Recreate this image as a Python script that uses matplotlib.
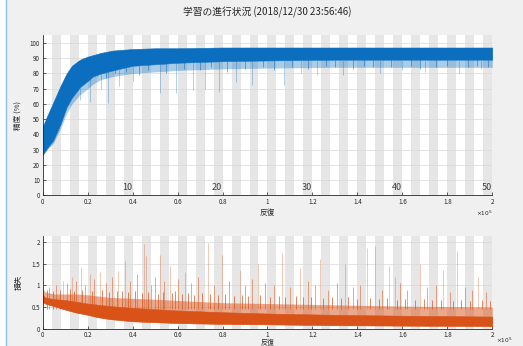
import matplotlib
matplotlib.use("Agg")
import matplotlib.pyplot as plt
from matplotlib.ticker import FuncFormatter, MultipleLocator
from matplotlib.lines import Line2D
from matplotlib.patches import Rectangle

plt.rcParams['font.family'] = ['Noto Sans CJK JP', 'DejaVu Sans']

# ---------------- data ----------------
title = "学習の進行状況 (2018/12/30 23:56:46)"
iters_per_epoch = 4000
n_epochs = 50
epoch_labels = [10, 20, 30, 40, 50]

# accuracy band envelope (iteration, %)
acc_x = [0, 2000, 4700, 8000, 10700, 13000, 16600, 20000, 22400, 26000, 31300,
         40000, 50000, 60000, 80000, 100000, 130000, 160000, 200000]
acc_hi = [45, 52, 61, 72, 80, 85, 89, 91, 92, 93.5, 95, 96, 96.5, 96.5, 97, 97, 97, 97, 97]
acc_lo = [26.5, 31, 36, 47, 58, 64, 71, 75, 78, 80, 82, 85, 86, 87, 88, 88.5, 89, 89, 89]
acc_fr = [26.5, 30, 34, 44, 54, 60, 66, 70, 73, 76, 78, 80, 81, 82, 83, 83.5, 84, 84, 84]
# downward accuracy spikes (iteration, %)
acc_spk_x = [16600, 21000, 29000, 26000, 34000, 40000, 52200, 59300, 67000, 72200,
             78600, 86000, 93200, 107500, 115000, 122000, 133700, 150000, 160000,
             170000, 185000, 195000]
acc_spk_v = [62.6, 61.5, 60.4, 70, 72, 75, 67, 67, 69, 70, 68, 74.6, 72.4, 72.4,
             80, 79, 79, 80, 82, 81, 80, 83]
acc_mid_x = [18000, 24000, 28000, 32000, 37000, 43000, 47000, 55000, 63000, 70000,
             75000, 82000, 90000, 98000, 103000, 111000, 118000, 126000, 130000,
             138000, 143000, 147000, 155000, 164000, 168000, 175000, 180000, 189000,
             193000, 198000]
acc_mid_v = [74, 78, 77, 80, 81, 79, 82, 80, 83, 82, 84, 81, 83, 84, 82, 84, 83, 85,
             84, 83, 85, 84, 84, 85, 83, 84, 85, 84, 85, 84]

# loss band envelope
loss_x = [0, 1000, 5000, 10000, 15000, 20000, 25000, 30000, 40000, 50000, 60000,
          80000, 100000, 130000, 160000, 200000]
loss_core = [0.78, 0.72, 0.68, 0.66, 0.62, 0.58, 0.55, 0.52, 0.48, 0.45, 0.42,
             0.38, 0.35, 0.32, 0.30, 0.28]
loss_fringe = [0.93, 0.85, 0.80, 0.80, 0.80, 0.78, 0.75, 0.72, 0.70, 0.68, 0.65,
               0.60, 0.58, 0.55, 0.52, 0.50]
loss_lo = [0.62, 0.58, 0.52, 0.44, 0.37, 0.32, 0.26, 0.22, 0.17, 0.15, 0.13,
           0.11, 0.10, 0.08, 0.07, 0.06]
# upward loss spikes
loss_spk_x = [9000, 13000, 17000, 21000, 25500, 33500, 36600, 45000, 45800, 52000,
              56600, 63300, 73500, 79700, 87800, 95800, 106500, 114500, 123400,
              134500, 144300, 147800, 154000, 156700, 167800, 178000, 184300, 193600]
loss_spk_v = [1.09, 1.2, 1.42, 1.27, 1.31, 1.34, 1.56, 1.95, 1.67, 1.7, 1.45, 1.3,
              1.98, 1.7, 1.35, 1.5, 1.75, 1.4, 1.6, 1.5, 1.85, 1.9, 1.45, 1.2, 1.5,
              1.35, 1.79, 1.2]
loss_mid_x = [3000, 6000, 11000, 15000, 19000, 23000, 28000, 31000, 39000, 42000,
              48000, 50000, 54000, 60000, 66000, 69000, 76000, 83000, 90000, 93000,
              99000, 103000, 110000, 118000, 121000, 127000, 131000, 138000, 141000,
              151000, 159000, 162000, 171000, 175000, 181000, 188000, 191000, 197000]
loss_mid_v = [0.95, 1.0, 1.05, 1.1, 1.0, 1.15, 1.05, 1.2, 1.1, 1.25, 1.0, 1.2, 1.1,
              1.15, 1.05, 1.2, 1.0, 1.1, 1.0, 1.15, 1.05, 1.0, 0.95, 1.1, 1.0, 0.9,
              1.05, 0.95, 1.0, 0.9, 1.05, 0.9, 0.95, 1.0, 0.85, 0.95, 0.9, 0.85]
loss_small_x = [2000, 4500, 7500, 12000, 14000, 17500, 22000, 26500, 29500, 33000,
                35500, 38000, 41000, 44000, 47000, 51500, 53500, 57500, 59000, 62000,
                64500, 67500, 71000, 74500, 78000, 81000, 85000, 88500, 91500, 96500,
                101000, 105000, 108000, 112500, 116000, 119500, 124500, 128500,
                132500, 136000, 140000, 145500, 149500, 153000, 157500, 161000,
                165500, 169500, 173000, 177000, 182500, 186000, 190000, 195500, 199000]
loss_small_v = [0.9, 0.88, 0.9, 0.92, 0.88, 0.9, 0.86, 0.9, 0.85, 0.88, 0.86, 0.84,
                0.87, 0.82, 0.85, 0.8, 0.84, 0.82, 0.86, 0.8, 0.83, 0.78, 0.82, 0.8,
                0.77, 0.8, 0.76, 0.78, 0.75, 0.78, 0.74, 0.76, 0.73, 0.75, 0.72, 0.74,
                0.7, 0.73, 0.7, 0.72, 0.69, 0.71, 0.68, 0.7, 0.67, 0.69, 0.66, 0.68,
                0.65, 0.67, 0.64, 0.66, 0.64, 0.65, 0.63]

# ---------------- style ----------------
BLUE = '#0b6ebf'
ORANGE = '#d95319'
BAND = '#e6e6e6'
BG = '#f0f0f0'
TXT = '#262626'

fig = plt.figure(figsize=(5.23, 3.46), dpi=100)
fig.patch.set_facecolor(BG)
fig.patches.append(Rectangle((0, 0), 6 / 523, 1, transform=fig.transFigure,
                             facecolor='white', edgecolor='none'))
fig.lines.append(Line2D([6 / 523, 6 / 523], [0, 1], transform=fig.transFigure,
                        color='#8cc0ea', lw=1.0))

ax1 = fig.add_axes([0.0816, 0.4355, 0.8597, 0.4642])
ax2 = fig.add_axes([0.0816, 0.050, 0.8597, 0.2679])

xmax = iters_per_epoch * n_epochs


def style(ax, ymax, ystep, off_x, off_y, ha):
    ax.set_facecolor('white')
    for e in range(1, n_epochs + 1):
        if e % 2 == 0:
            ax.axvspan((e - 1) * iters_per_epoch, e * iters_per_epoch,
                       color=BAND, lw=0, zorder=0)
    ax.set_xlim(0, xmax)
    ax.set_ylim(0, ymax)
    ax.yaxis.set_major_locator(MultipleLocator(ystep))
    ax.xaxis.set_major_locator(MultipleLocator(20000))
    ax.xaxis.set_major_formatter(FuncFormatter(lambda v, p: '%g' % (v / 1e5)))
    ax.grid(axis='y', color='#d9d9d9', lw=0.5, zorder=0.5)
    ax.set_axisbelow(True)
    for s in ['top', 'right']:
        ax.spines[s].set_visible(False)
    for s in ['left', 'bottom']:
        ax.spines[s].set_color(TXT)
        ax.spines[s].set_linewidth(0.6)
    ax.tick_params(direction='in', length=2.5, width=0.5, labelsize=4.5,
                   colors=TXT, pad=2.0)
    ax.text(off_x, off_y, r'$\times10^5$', transform=ax.transAxes, ha=ha,
            va='top', fontsize=4.2, color=TXT, family='DejaVu Sans')


style(ax1, 105.4, 10, 1.0, -0.085, 'right')
style(ax2, 2.136, 0.5, 1.008, -0.075, 'left')
ax2.yaxis.set_major_formatter(FuncFormatter(lambda v, p: '%g' % v))

# accuracy
ax1.fill_between(acc_x, acc_fr, acc_lo, color=BLUE, lw=0, alpha=0.35, zorder=2)
ax1.fill_between(acc_x, acc_lo, acc_hi, color=BLUE, lw=0.4, zorder=2)
ax1.vlines(acc_mid_x, acc_mid_v, 90, color=BLUE, lw=0.6, alpha=0.6, zorder=2)
ax1.vlines(acc_spk_x, acc_spk_v, 88, color=BLUE, lw=0.5, alpha=0.45, zorder=2)

# loss
ax2.fill_between(loss_x, loss_lo, loss_fringe, color=ORANGE, lw=0, alpha=0.5, zorder=2)
ax2.fill_between(loss_x, loss_lo, loss_core, color=ORANGE, lw=0.4, zorder=2)
ax2.vlines(loss_small_x, 0.45, loss_small_v, color=ORANGE, lw=0.7, alpha=0.7, zorder=2)
ax2.vlines(loss_mid_x, 0.45, loss_mid_v, color=ORANGE, lw=0.6, alpha=0.6, zorder=2)
ax2.vlines(loss_spk_x, 0.45, loss_spk_v, color=ORANGE, lw=0.5, alpha=0.45, zorder=2)

# epoch labels
for e in epoch_labels:
    ax1.text(e * iters_per_epoch - 300, 2.5, str(e), ha='right', va='bottom',
             fontsize=6.5, color='#404040', zorder=3)

ax1.set_ylabel('精度 (%)', fontsize=5.5, color=TXT, labelpad=6)
ax2.set_ylabel('損失', fontsize=5.5, color=TXT, labelpad=6)
ax1.set_xlabel('反復', fontsize=5.5, color=TXT, labelpad=2)
ax2.set_xlabel('反復', fontsize=5, color=TXT, labelpad=0)
fig.text(0.5116, 0.965, title, ha='center', va='center', fontsize=7, color=TXT)

fig.savefig('out.png', dpi=100, facecolor=BG)
